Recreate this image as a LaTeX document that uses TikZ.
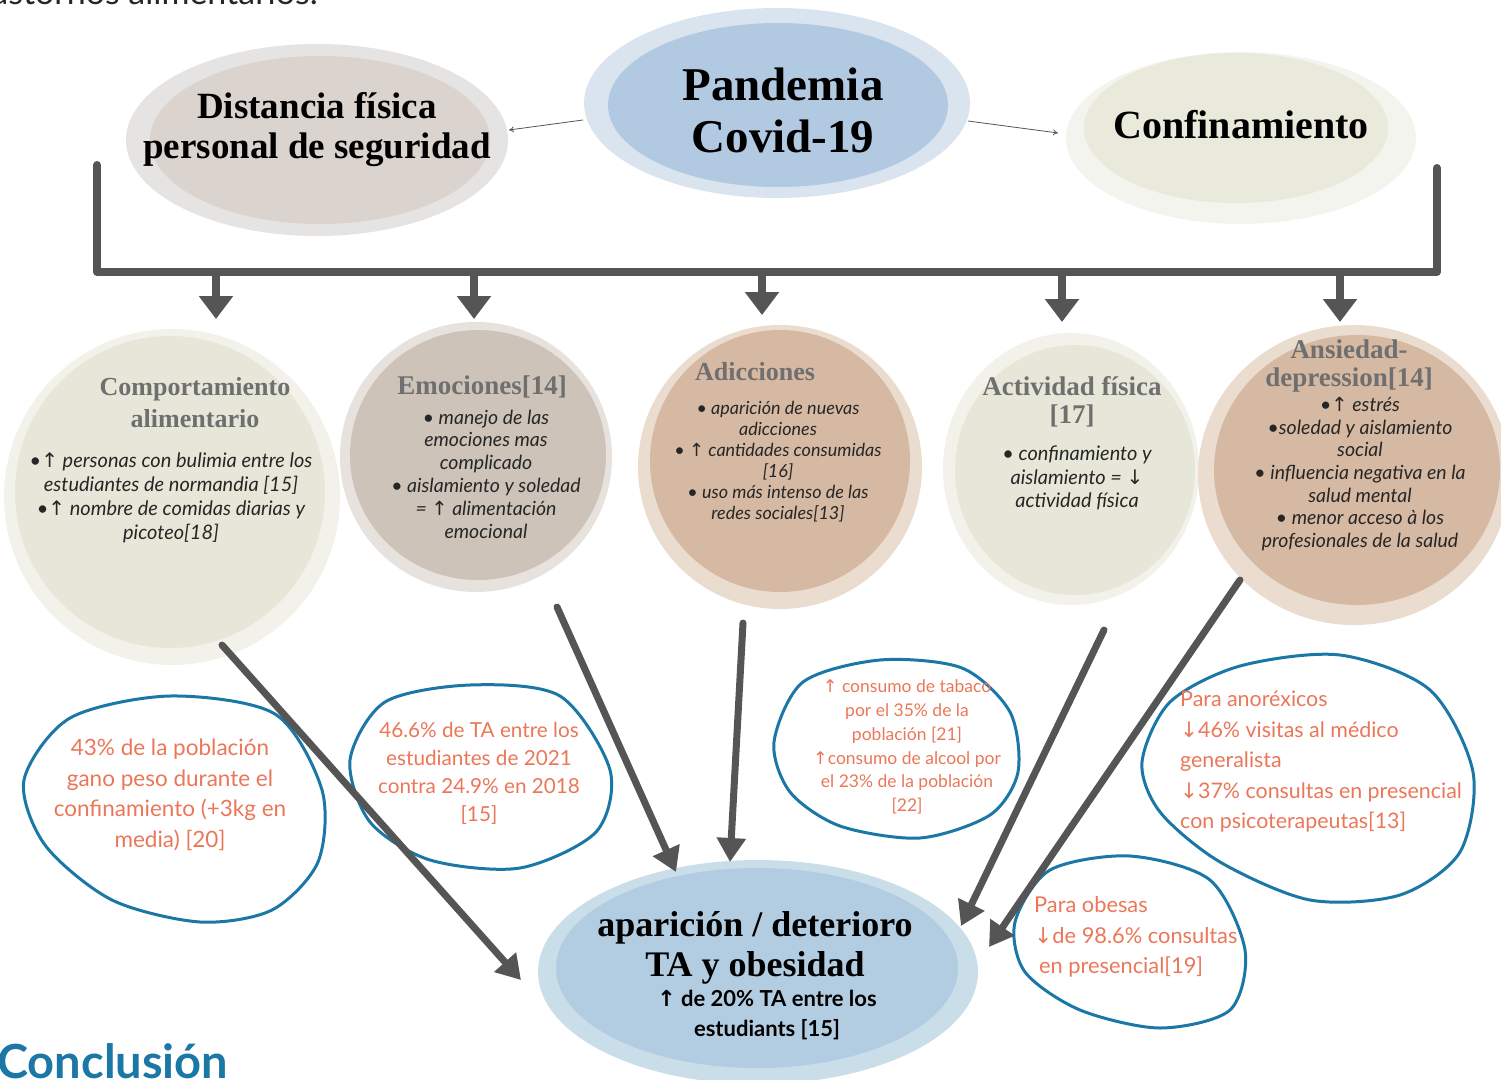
\documentclass[tikz,border=0pt]{standalone}
\usepackage{fontspec}
\usetikzlibrary{arrows.meta}
\newfontfamily\lato{Lato}
\newfontfamily\headfont{Liberation Serif}
\newfontfamily\symfont{DejaVu Sans}
\newcommand\fsz[2]{\fontsize{#1}{#2}\selectfont}
\newcommand\upar{{\symfont ↑}}
\newcommand\dnar{{\symfont ↓}}

\definecolor{bargray}{HTML}{555555}
\definecolor{titlegray}{HTML}{6F6F6F}
\definecolor{bodyink}{HTML}{262626}
\definecolor{salmon}{HTML}{EB7658}
\definecolor{loopblue}{HTML}{1B77A5}
\definecolor{sageout}{HTML}{F2F2EB}
\definecolor{sagein}{HTML}{E7E7D9}
\definecolor{taupeout}{HTML}{E7E2DD}
\definecolor{taupein}{HTML}{CDC3B9}
\definecolor{tanout}{HTML}{EBDCD0}
\definecolor{tanin}{HTML}{D6B9A3}
\definecolor{greyout}{HTML}{E5E4E3}
\definecolor{greyin}{HTML}{DBD3CD}
\definecolor{skyout}{HTML}{DAE4EF}
\definecolor{skyin}{HTML}{B1C9E1}
\definecolor{paleout}{HTML}{F4F4EF}
\definecolor{palein}{HTML}{E9E9DC}
\definecolor{botout}{HTML}{C9DEE9}
\definecolor{botin}{HTML}{B2CCE1}

\tikzset{
	bar/.style={line width=8pt, draw=bargray, line cap=round, line join=round},
	droparrow/.style={bar, -{Triangle[width=33pt,length=23pt]}},
	slantarrow/.style={line width=7pt, draw=bargray, line cap=round, -{Triangle[width=28pt,length=24pt]}},
	thinarrow/.style={draw=bargray, line width=0.8pt, -{To[length=5pt,width=6pt]}},
	bluering/.style={draw=loopblue, line width=3pt},
	bigtitle/.style={align=center, inner sep=0pt, text=black},
	blobtitle/.style={align=center, inner sep=0pt, text=titlegray},
	blobbody/.style={align=center, inner sep=0pt, text=bodyink},
	notetext/.style={inner sep=0pt, text=salmon}
}

\begin{document}
\begin{tikzpicture}[x=1pt,y=-1pt]
			%%%%% START %%%%%
			\useasboundingbox (0,0) rectangle (1501,1079);
			
			\node[anchor=base east, inner sep=0pt, text=bodyink, font=\lato\fsz{34}{40}] (intro) at (318,4) {trastornos alimentarios.};
			
			% causes
			\fill[greyout] (317,140) ellipse [x radius=191pt, y radius=96pt];
			\fill[greyin] (320,140) ellipse [x radius=170pt, y radius=84pt];
			\node[bigtitle, font=\headfont\bfseries\fsz{37}{40}] (distancia) at (317,130) {Distancia física\\personal de seguridad};
			
			\fill[skyout] (777,103) ellipse [x radius=193pt, y radius=95pt];
			\fill[skyin] (778,105) ellipse [x radius=170pt, y radius=82pt];
			\node[bigtitle, font=\headfont\bfseries\fsz{47}{52}] (pandemia) at (783,110) {Pandemia\\Covid-19};
			
			\fill[paleout] (1241,138) ellipse [x radius=175pt, y radius=86pt];
			\fill[palein] (1236,128) ellipse [x radius=152pt, y radius=75pt];
			\node[bigtitle, font=\headfont\bfseries\fsz{40}{44}] (confinamiento) at (1241,125) {Confinamiento};
			
			\coordinate (pandL) at (583,120);
			\coordinate (distR) at (509,130);
			\coordinate (pandR) at (968,121);
			\coordinate (confL) at (1058,133);
			\draw[thinarrow] (pandL) -- (distR);
			\draw[thinarrow] (pandR) -- (confL);
			
			% bracket
			\coordinate (barL) at (97,165);
			\coordinate (barLL) at (97,272);
			\coordinate (barRR) at (1437,272);
			\coordinate (barR) at (1437,168);
			\draw[bar] (barL) -- (barLL) -- (barRR) -- (barR);
			
			\coordinate (drop1) at (216,272);
			\coordinate (drop2) at (474,272);
			\coordinate (drop3) at (762,272);
			\coordinate (drop4) at (1062,272);
			\coordinate (drop5) at (1340,272);
			\coordinate (land1) at (216,319);
			\coordinate (land2) at (474,319);
			\coordinate (land3) at (762,315);
			\coordinate (land4) at (1062,322);
			\coordinate (land5) at (1340,322);
			\draw[droparrow] (drop1) -- (land1);
			\draw[droparrow] (drop2) -- (land2);
			\draw[droparrow] (drop3) -- (land3);
			\draw[droparrow] (drop4) -- (land4);
			\draw[droparrow] (drop5) -- (land5);
			
			% blobs
			\fill[sageout] (172,497) ellipse [x radius=168pt, y radius=168pt];
			\fill[sagein] (170,492) ellipse [x radius=155pt, y radius=156pt];
			\node[blobtitle, font=\headfont\bfseries\fsz{26}{32}] (comport) at (195,403) {Comportamiento\\alimentario};
			\node[blobbody, font=\lato\itshape\fsz{20}{23.8}] (comportBody) at (171,498) {•\upar{} personas con bulimia entre los\\estudiantes de normandia [15]\\•\upar{} nombre de comidas diarias y\\picoteo[18]};
			
			\fill[taupeout] (476,457) ellipse [x radius=136pt, y radius=135pt];
			\fill[taupein] (478,455) ellipse [x radius=128pt, y radius=125pt];
			\node[blobtitle, font=\headfont\bfseries\fsz{27}{30}] (emociones) at (482,387) {Emociones[14]};
			\node[blobbody, font=\lato\itshape\fsz{19.5}{22.8}] (emocionesBody) at (486,474) {• manejo de las\\emociones mas\\complicado\\• aislamiento y soledad\\= \upar{} alimentación\\emocional};
			
			\fill[tanout] (780,467) ellipse [x radius=142pt, y radius=142pt];
			\fill[tanin] (780,461) ellipse [x radius=130pt, y radius=131pt];
			\node[blobtitle, font=\headfont\bfseries\fsz{26}{30}] (adicciones) at (755,372) {Adicciones};
			\node[blobbody, font=\lato\itshape\fsz{18}{21}] (adiccionesBody) at (778,462) {• aparición de nuevas\\adicciones\\• \upar{} cantidades consumidas\\{}[16]\\• uso más intenso de las\\redes sociales[13]};
			
			\fill[sageout] (1071,469) ellipse [x radius=128pt, y radius=136pt];
			\fill[sagein] (1075,470) ellipse [x radius=120pt, y radius=125pt];
			\node[blobtitle, font=\headfont\bfseries\fsz{27}{28}] (actividad) at (1072,402) {Actividad física\\{}[17]};
			\node[blobbody, font=\lato\itshape\fsz{20}{23.5}] (actividadBody) at (1077,478) {• confinamiento y\\aislamiento = \dnar\\actividad física};
			
			\fill[tanout] (1354,475) ellipse [x radius=156pt, y radius=150pt];
			\fill[tanin] (1357,470) ellipse [x radius=143pt, y radius=135pt];
			\node[blobtitle, font=\headfont\bfseries\fsz{27}{28}] (ansiedad) at (1349,366) {Ansiedad-\\depression[14]};
			\node[blobbody, font=\lato\itshape\fsz{19.5}{22.7}] (ansiedadBody) at (1360,474) {•\upar{} estrés\\•soledad y aislamiento\\social\\• influencia negativa en la\\salud mental\\• menor acceso à los\\profesionales de la salud};
			
			% outcome
			\fill[botout] (758,972) ellipse [x radius=220pt, y radius=112pt];
			\fill[botin] (757,968) ellipse [x radius=201pt, y radius=100pt];
			\node[bigtitle, font=\headfont\bfseries\fsz{36}{40}] (outcome) at (755,948) {aparición / deterioro\\TA y obesidad};
			\node[bigtitle, font=\lato\bfseries\fsz{22}{30}] (outcomeNote) at (767,1015) {\upar{} de 20\% TA entre los\\estudiants [15]};
			
			% notes
			\draw[bluering] plot[smooth cycle] coordinates {(24,780) (70,718) (170,696) (275,714) (322,790) (318,862) (272,910) (200,922) (112,900) (45,845)};
			\node[notetext, align=center, font=\lato\fsz{22.5}{30.5}] (note1) at (170,795) {43\% de la población\\gano peso durante el\\confinamiento (+3kg en\\media) [20]};
			
			\draw[bluering] plot[smooth cycle] coordinates {(350,760) (385,702) (470,685) (560,696) (610,770) (596,832) (520,868) (430,860) (370,822)};
			\node[notetext, align=center, font=\lato\fsz{20.7}{28}] (note2) at (479,773) {46.6\% de TA entre los\\estudiantes de 2021\\contra 24.9\% en 2018\\{}[15]};
			
			\draw[bluering] plot[smooth cycle] coordinates {(774,742) (803,682) (880,660) (962,668) (1010,712) (1018,772) (990,815) (920,838) (840,826) (790,792)};
			\node[notetext, align=center, font=\lato\fsz{17.5}{23.8}] (note3) at (907,747) {\upar{} consumo de tabaco\\por el 35\% de la\\población [21]\\\upar{}consumo de alcool por\\el 23\% de la población\\{}[22]};
			
			\draw[bluering] plot[smooth cycle] coordinates {(1142,762) (1170,702) (1240,666) (1340,655) (1430,690) (1473,772) (1460,852) (1400,895) (1310,900) (1220,862) (1160,812)};
			\node[notetext, align=left, anchor=west, font=\lato\fsz{21.4}{30.5}] (note4) at (1180,762) {Para anoréxicos\\\dnar{}46\% visitas al médico\\generalista\\\dnar{}37\% consultas en presencial\\con psicoterapeutas[13]};
			
			\draw[bluering] plot[smooth cycle] coordinates {(1015,922) (1050,870) (1130,856) (1210,880) (1245,950) (1230,1010) (1160,1028) (1080,1010) (1025,972)};
			\node[notetext, align=left, anchor=west, font=\lato\fsz{21.8}{30.5}] (note5) at (1034,937) {Para obesas\\\dnar{}de 98.6\% consultas\\\hspace{5pt}en presencial[19]};
			
			% into outcome
			\coordinate (from1) at (222,645);
			\coordinate (from2) at (557,607);
			\coordinate (from3) at (743,623);
			\coordinate (from4) at (1104,630);
			\coordinate (from5) at (1240,580);
			\coordinate (into1) at (521,980);
			\coordinate (into2) at (676,872);
			\coordinate (into3) at (730,862);
			\coordinate (into4) at (961,926);
			\coordinate (into5) at (989,947);
			\draw[slantarrow] (from1) -- (into1);
			\draw[slantarrow] (from2) -- (into2);
			\draw[slantarrow] (from3) -- (into3);
			\draw[slantarrow] (from4) -- (into4);
			\draw[slantarrow] (from5) -- (into5);
			
			\node[anchor=base west, inner sep=0pt, text=loopblue, font=\lato\bfseries\fsz{47}{52}] (conclusion) at (-3,1078) {Conclusión};
			%%%%% END %%%%%
\end{tikzpicture}
\end{document}
